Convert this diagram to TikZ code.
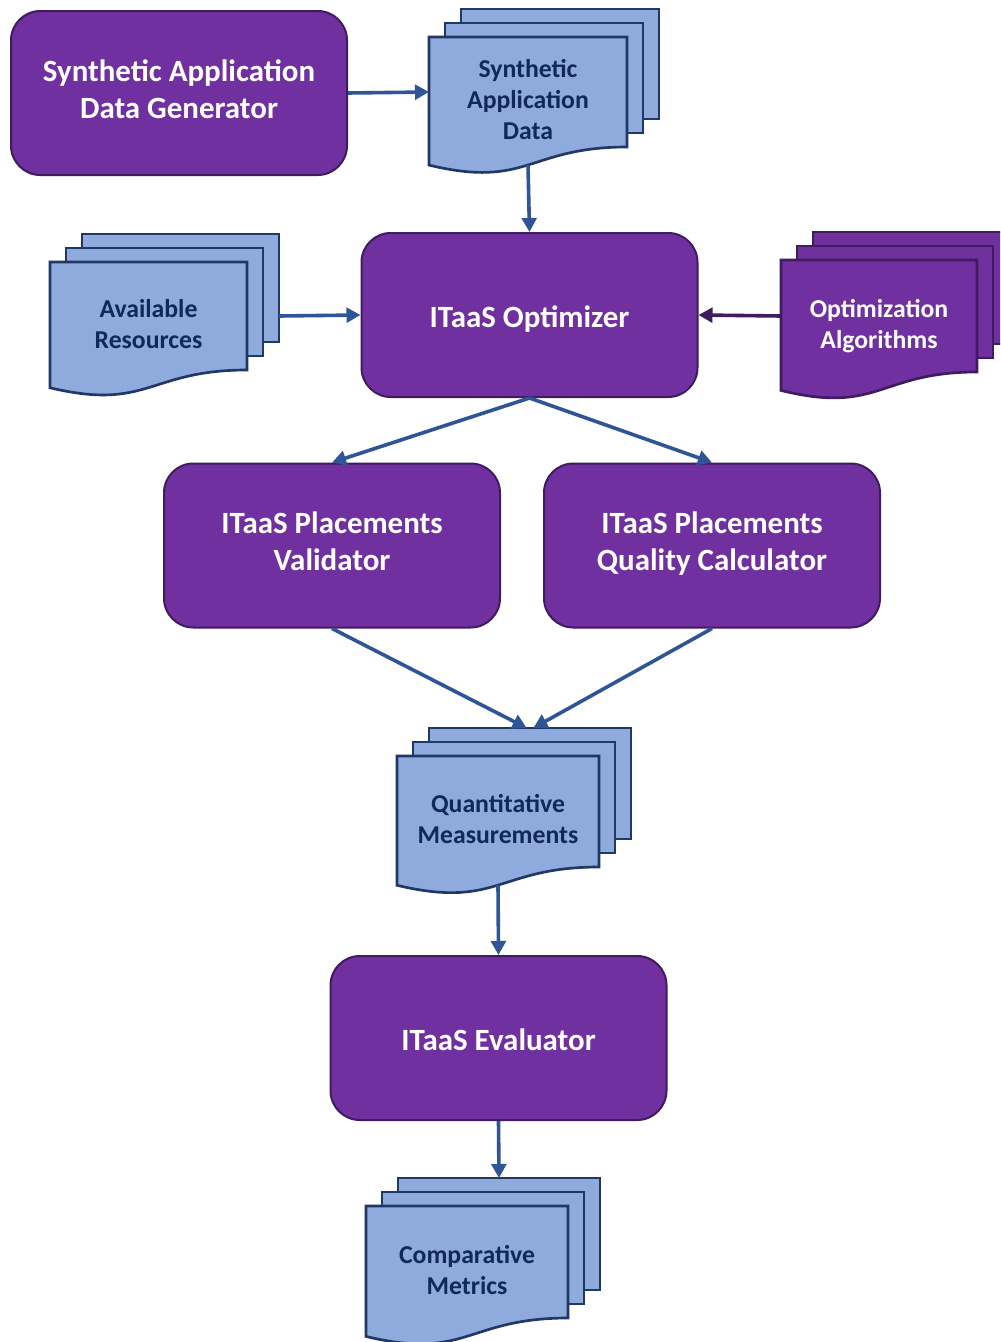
\documentclass[tikz,border=0pt]{standalone}
\usepackage{fontspec}
\setmainfont{Carlito}
\usetikzlibrary{arrows.meta}

\definecolor{boxfill}{HTML}{7030A0}
\definecolor{boxline}{HTML}{3E1C5E}
\definecolor{pagefill}{HTML}{8FAADC}
\definecolor{pageline}{HTML}{1F3864}
\definecolor{pagetext}{HTML}{10285A}
\definecolor{flowblue}{HTML}{2F5597}

% invisible rules on the first and last line that centre each label vertically
\newcommand\boxtop{\rule{0pt}{25.1pt}}
\newcommand\boxbottom{\rule[-6pt]{0pt}{6pt}}
\newcommand\pagetop{\rule{0pt}{21.7pt}}
\newcommand\pagebottom{\rule[-5pt]{0pt}{5pt}}

\tikzset{
  procbox/.style={draw=boxline, line width=1.5pt, fill=boxfill, rounded corners=22pt,
    minimum width=252pt, minimum height=123pt, align=center, text=white,
    execute at begin node=\boxtop, execute at end node=\boxbottom,
    font=\bfseries\fontsize{23.2}{27.75}\selectfont},
  bluepage/.style={draw=pageline, line width=2pt, fill=pagefill, line join=miter},
  purplepage/.style={draw=boxline, line width=2pt, fill=boxfill, line join=miter},
  pagelabel/.style={align=center, execute at begin node=\pagetop, execute at end node=\pagebottom,
    font=\bfseries\fontsize{19.3}{23.25}\selectfont},
  bluetext/.style={pagelabel, text=pagetext},
  purpletext/.style={pagelabel, text=white},
  flow/.style={draw=flowblue, line width=2.7pt, -{Triangle[length=10.5pt,width=11pt]}},
  flowpurple/.style={draw=boxline, line width=2.7pt, -{Triangle[length=10.5pt,width=11pt]}},
}

% A stack of three document pages with a wavy bottom on the front page.
% #1 name, #2 left x, #3 top y of the front page, #4 width, #5 height of the straight right edge,
% #6 colour scheme (blue or purple), #7 text
\newcommand\docstack[7]{%
  \foreach \k in {2,1} {
    \path[#6page] ({#2+16*\k},{#3-14*\k}) rectangle ({#2+#4+16*\k},{#3+#5-14*\k});
  }
  \path[#6page] (#2,#3) -- ({#2+#4},#3) -- ({#2+#4},{#3+#5})
     .. controls ({#2+0.5*#4},{#3+#5}) and ({#2+0.5*#4},{#3+1.381*#5}) .. (#2,{#3+1.1646*#5})
     coordinate[pos=0.5] (#1-s) -- cycle;
  \coordinate (#1-w) at (#2,{#3+0.5*#5});
  \coordinate (#1-e) at ({#2+#4+32},{#3+0.5*#5});
  \coordinate (#1-n) at ({#2+#4/2+32},{#3-28});
  \node[#6text] (#1) at ({#2+#4/2},{#3+0.6*#5}) {#7};
}

\begin{document}
\begin{tikzpicture}[x=0.75pt, y=-0.75pt]
  \useasboundingbox[fill=white] (0,0) rectangle (1000,1342);
  \clip (0,0) rectangle (1000,1342);

  % processing steps
  \node[procbox] (gen)  at (179,93)     {Synthetic Application\\Data Generator};
  \node[procbox] (opt)  at (529.5,315)  {ITaaS Optimizer};
  \node[procbox] (val)  at (332,545.5)  {ITaaS Placements\\Validator};
  \node[procbox] (qc)   at (712,545.5)  {ITaaS Placements\\Quality Calculator};
  \node[procbox] (eval) at (498.5,1038) {ITaaS Evaluator};

  % data sets
  \docstack{sad}{429}{37}{198}{110}{blue}{Synthetic\\Application\\Data}
  \docstack{ar}{50}{262}{197}{108}{blue}{Available\\Resources}
  \docstack{oa}{781}{260}{196}{112}{purple}{Optimization\\Algorithms}
  \docstack{qm}{397}{756}{202}{111}{blue}{Quantitative\\Measurements}
  \docstack{cm}{366}{1206}{202}{112}{blue}{Comparative\\Metrics}

  % data flow
  \draw[flow] (gen.east) -- (sad-w);
  \draw[flow] (sad-s) -- (opt.north);
  \draw[flow] (ar-e) -- (opt.west);
  \draw[flowpurple] (oa-w) -- (opt.east);
  \draw[flow] (opt.south) -- (val.north);
  \draw[flow] (opt.south) -- (qc.north);
  \draw[flow] (val.south) -- ([xshift=-2.5pt]qm-n);
  \draw[flow] (qc.south) -- ([xshift=2.5pt]qm-n);
  \draw[flow] (qm-s) -- (eval.north);
  \draw[flow] (eval.south) -- (cm-n);
\end{tikzpicture}
\end{document}
